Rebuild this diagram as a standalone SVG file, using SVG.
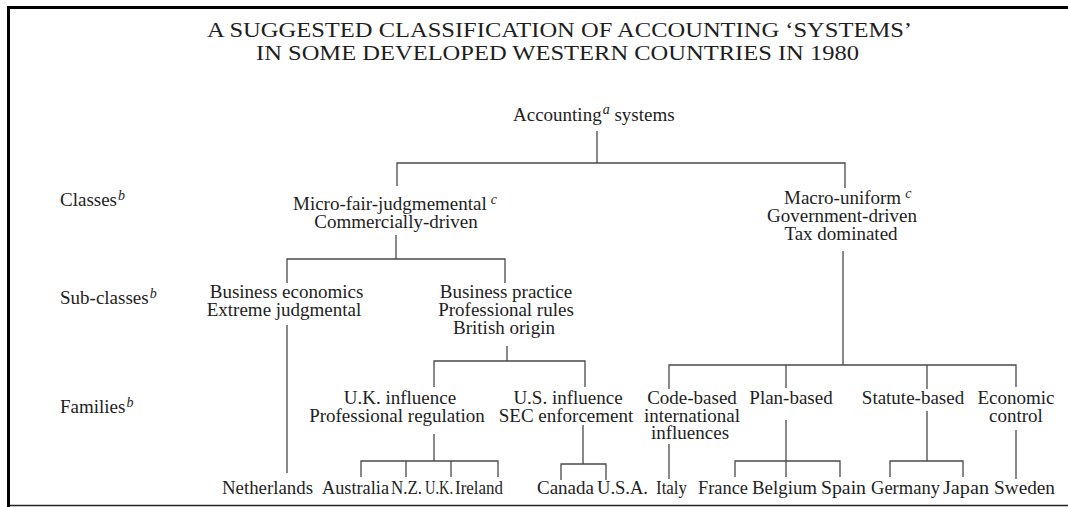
<svg xmlns="http://www.w3.org/2000/svg" width="1068" height="507" viewBox="0 0 1068 507">
<style>
text{font-family:"Liberation Serif","Times New Roman",serif;font-size:19px;fill:#1e1e1e}
.t{font-size:21px}
.m{text-anchor:middle}
.sup{font-style:italic;font-size:14px}
.ab{font-size:18px}
.c path{fill:none;stroke:#4a4a4a;stroke-width:1.3}
</style>
<rect width="1068" height="507" fill="#fff"/>
<g id="frame" fill="none" stroke="#000">
<path d="M8.5 507V7.5H1068" stroke-width="3"/>
<path d="M10 505.5H1068" stroke-width="1.6" stroke="#222"/>
</g>
<g id="title">
<text class="t m" x="559.5" y="37" textLength="705" lengthAdjust="spacingAndGlyphs">A SUGGESTED CLASSIFICATION OF ACCOUNTING ‘SYSTEMS’</text>
<text class="t m" x="557.5" y="60" textLength="603" lengthAdjust="spacingAndGlyphs">IN SOME DEVELOPED WESTERN COUNTRIES IN 1980</text>
</g>
<g class="c" id="connectors">
<path d="M597 131V163M397 186V163H845V188"/>
<path d="M396 235V259M287 283V259H505V283"/>
<path d="M287 325V473"/>
<path d="M507 346V361M434 387V361H585V387"/>
<path d="M843 251V365M669 389V365H1016V387M786 365V388M927 365V389"/>
<path d="M434 434V461M361 477V461H498V477M406 461V477M451 461V477"/>
<path d="M583 425V464M561 480V464H606V480"/>
<path d="M669 444V479"/>
<path d="M786 420V477M735 477V461H840V477"/>
<path d="M927 411V461M890 477V461H963V477"/>
<path d="M1016 430V479"/>
</g>
<g id="level-classes"><text x="60" y="206">Classes<tspan class="sup" dx="1" dy="-6">b</tspan></text></g>
<g id="level-subclasses"><text x="60" y="304">Sub-classes<tspan class="sup" dx="1" dy="-6">b</tspan></text></g>
<g id="level-families"><text x="60" y="413">Families<tspan class="sup" dx="1" dy="-6">b</tspan></text></g>
<g id="root"><text x="513" y="121">Accounting<tspan class="sup" dx="1" dy="-7">a</tspan><tspan dy="7"> systems</tspan></text></g>
<g id="class-micro">
<text x="293" y="210">Micro-fair-judgmemental<tspan class="sup" dx="4" dy="-6">c</tspan></text>
<text class="m" x="396" y="228">Commercially-driven</text>
</g>
<g id="class-macro">
<text x="784" y="204">Macro-uniform<tspan class="sup" dx="4" dy="-6">c</tspan></text>
<text class="m" x="842" y="222">Government-driven</text>
<text class="m" x="841" y="240">Tax dominated</text>
</g>
<g id="sub-economics">
<text class="m" x="286.5" y="298">Business economics</text>
<text class="m" x="284" y="316">Extreme judgmental</text>
</g>
<g id="sub-practice">
<text class="m" x="506" y="298">Business practice</text>
<text class="m" x="506" y="316">Professional rules</text>
<text class="m" x="504" y="334">British origin</text>
</g>
<g id="fam-uk">
<text class="m" x="400" y="404">U.K. influence</text>
<text class="m" x="397" y="422">Professional regulation</text>
</g>
<g id="fam-us">
<text class="m" x="568" y="404">U.S. influence</text>
<text class="m" x="566" y="422">SEC enforcement</text>
</g>
<g id="fam-code">
<text class="m" x="692" y="404">Code-based</text>
<text class="m" x="692" y="422">international</text>
<text class="m" x="690" y="439">influences</text>
</g>
<g id="fam-plan"><text class="m" x="791" y="404">Plan-based</text></g>
<g id="fam-statute"><text class="m" x="913" y="404">Statute-based</text></g>
<g id="fam-economic">
<text class="m" x="1016" y="404">Economic</text>
<text class="m" x="1016" y="422">control</text>
</g>
<g id="country-netherlands"><text x="222" y="494" textLength="91" lengthAdjust="spacingAndGlyphs">Netherlands</text></g>
<g id="country-australia"><text x="322" y="494" textLength="67" lengthAdjust="spacingAndGlyphs">Australia</text></g>
<g id="country-nz"><text class="ab" x="391" y="494" textLength="31" lengthAdjust="spacingAndGlyphs">N.Z.</text></g>
<g id="country-uk"><text class="ab" x="425" y="494" textLength="28" lengthAdjust="spacingAndGlyphs">U.K.</text></g>
<g id="country-ireland"><text x="455" y="494" textLength="48" lengthAdjust="spacingAndGlyphs">Ireland</text></g>
<g id="country-canada"><text x="537" y="494" textLength="57" lengthAdjust="spacingAndGlyphs">Canada</text></g>
<g id="country-usa"><text x="597" y="494" textLength="51" lengthAdjust="spacingAndGlyphs">U.S.A.</text></g>
<g id="country-italy"><text x="656" y="494" textLength="31" lengthAdjust="spacingAndGlyphs">Italy</text></g>
<g id="country-france"><text x="698" y="494" textLength="50" lengthAdjust="spacingAndGlyphs">France</text></g>
<g id="country-belgium"><text x="752" y="494" textLength="65" lengthAdjust="spacingAndGlyphs">Belgium</text></g>
<g id="country-spain"><text x="821" y="494" textLength="45" lengthAdjust="spacingAndGlyphs">Spain</text></g>
<g id="country-germany"><text x="871" y="494" textLength="69" lengthAdjust="spacingAndGlyphs">Germany</text></g>
<g id="country-japan"><text x="943" y="494" textLength="46" lengthAdjust="spacingAndGlyphs">Japan</text></g>
<g id="country-sweden"><text x="994" y="494" textLength="61" lengthAdjust="spacingAndGlyphs">Sweden</text></g>
</svg>
